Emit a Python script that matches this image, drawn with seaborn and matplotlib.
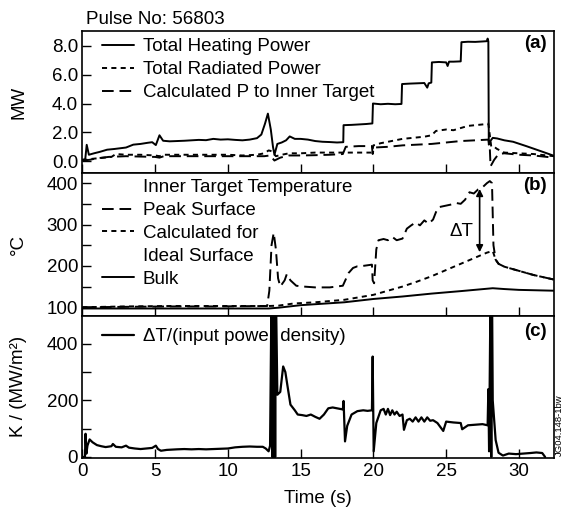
import numpy as np
import pandas as pd
import matplotlib
matplotlib.use("Agg")
import matplotlib.pyplot as plt
import matplotlib.ticker as mticker
from matplotlib.lines import Line2D
import seaborn as sns

# ── Dados (pulso 56803) ─────────────────────────────────────────────────────
t_heat = [0, 0.2, 0.3, 0.45, 0.8, 1.2, 1.7, 2.2, 2.6, 3.0, 3.5, 4.0, 4.5, 4.8, 5.05, 5.3, 5.55,
          6.0, 6.5, 7.0, 7.5, 8.0, 8.5, 9.0, 9.5, 10.0, 10.5, 11.0, 11.5, 12.0, 12.3, 12.55,
          12.75, 12.95, 13.1, 13.2, 13.4, 13.7, 14.0, 14.25, 14.6, 15.0, 15.5, 16.0, 16.5, 17.0,
          17.5, 17.93, 17.95, 18.5, 19.0, 19.5, 19.93, 19.97, 20.5, 21.0, 21.5, 21.93, 21.97,
          22.5, 23.0, 23.5, 23.7, 23.8, 23.98, 24.02, 24.5, 25.0, 25.1, 25.2, 25.5, 26.0, 26.05,
          26.5, 27.0, 27.5, 27.8, 27.85, 27.9, 27.93, 28.0, 28.2, 28.5, 29.0, 29.6, 30.5, 31.5, 32.4]
p_heat = [0.1, 0.15, 1.14, 0.45, 0.55, 0.65, 0.8, 0.85, 0.9, 0.95, 1.15, 1.2, 1.28, 1.32, 1.12, 1.8,
          1.42, 1.38, 1.4, 1.42, 1.45, 1.48, 1.46, 1.55, 1.5, 1.52, 1.48, 1.45, 1.5, 1.6, 1.85, 2.6,
          3.3, 2.2, 1.0, 0.45, 1.2, 1.3, 1.45, 1.72, 1.55, 1.55, 1.5, 1.4, 1.35, 1.33, 1.3, 1.32,
          2.5, 2.52, 2.55, 2.58, 2.62, 4.0, 3.95, 3.98, 3.95, 3.97, 5.35, 5.38, 5.4, 5.42, 5.1,
          5.4, 5.45, 6.85, 6.88, 6.85, 6.6, 6.9, 6.9, 6.92, 8.25, 8.28, 8.27, 8.3, 8.32, 8.5, 8.3,
          1.15, 1.35, 1.62, 1.58, 1.45, 1.35, 1.05, 0.7, 0.38]

t_rad = [0, 0.5, 1.0, 1.5, 2.0, 2.3, 3, 4, 5, 5.3, 5.6, 6, 7, 8, 9, 10, 11, 12, 12.5, 12.8, 13.0,
         13.3, 13.7, 14.2, 15, 16, 17, 18, 19, 19.9, 20.0, 20.5, 21, 21.5, 22, 22.5, 23, 23.5, 24,
         24.3, 25, 25.5, 26, 26.5, 27, 27.5, 27.9, 28.0, 28.1, 28.3, 28.5, 29, 30, 31, 32.4]
p_rad = [0.05, 0.15, 0.2, 0.25, 0.3, 0.5, 0.45, 0.45, 0.4, 0.35, 0.45, 0.45, 0.45, 0.45, 0.45, 0.45,
         0.4, 0.45, 0.55, 0.75, 0.7, 0.35, 0.45, 0.55, 0.55, 0.6, 0.6, 0.6, 0.6, 0.6, 1.1, 1.25,
         1.35, 1.45, 1.55, 1.6, 1.65, 1.7, 1.8, 2.1, 2.2, 2.15, 2.3, 2.45, 2.5, 2.55, 2.6, 1.8, 1.0,
         1.0, 0.85, 0.6, 0.55, 0.5, 0.35]

t_pin = [0, 0.5, 1.0, 1.8, 3, 5, 5.3, 5.6, 7, 9, 11, 12.5, 12.9, 13.2, 13.6, 14.2, 15, 16, 17,
         17.9, 18.1, 19, 19.9, 19.95, 20.05, 21, 22, 23, 24, 25, 26, 27, 27.9, 28.0, 28.05, 28.3,
         28.6, 29, 30, 31, 32.4]
p_pin = [0.05, 0.1, 0.2, 0.3, 0.35, 0.3, 0.25, 0.35, 0.35, 0.35, 0.35, 0.35, 0.4, 0.05, 0.25, 0.4,
         0.4, 0.42, 0.45, 0.5, 1.0, 1.05, 1.05, 0.5, 0.95, 1.0, 1.1, 1.15, 1.2, 1.3, 1.4, 1.45, 1.5,
         0.9, -0.35, 0.1, 0.5, 0.55, 0.45, 0.4, 0.25]

t_bulk = [0, 5, 10, 12.8, 13.5, 15, 18, 20, 22, 24, 26, 28.2, 29, 30, 32.4]
T_bulk = [97, 97, 97, 97, 99, 105, 112, 120, 126, 133, 139, 146, 144, 142, 140]

t_ideal = [0, 3, 6, 9, 12.8, 13.5, 14.5, 16, 18, 20, 21, 22, 23, 24, 25, 26, 27, 27.8, 28.2,
           28.4, 28.6, 29, 30, 31, 32.4]
T_ideal = [100, 102, 103, 103, 103, 104, 109, 112, 118, 130, 140, 150, 162, 175, 190, 205, 220,
           232, 236, 215, 205, 198, 188, 178, 167]

t_peak = [0, 3, 6, 9, 12.7, 12.85, 13.0, 13.15, 13.3, 13.45, 13.6, 13.9, 14.05, 14.3, 14.7, 15.2,
          16, 17, 17.9, 18.3, 18.6, 18.9, 19.3, 19.9, 19.95, 20.05, 20.2, 20.35, 20.7, 21.0, 21.3,
          21.6, 22.0, 22.3, 22.6, 22.9, 23.2, 23.5, 23.8, 24.1, 24.3, 24.5, 24.9, 25.3, 25.7, 26.0,
          26.3, 26.6, 26.9, 27.2, 27.5, 27.8, 28.0, 28.15, 28.25, 28.4, 28.6, 29, 30, 31, 32.4]
T_peak = [100, 101, 102, 102, 103, 140, 250, 280, 240, 170, 150, 165, 180, 165, 152, 150, 148,
          148, 152, 183, 195, 199, 200, 203, 165, 158, 240, 262, 265, 262, 270, 262, 266, 290, 298,
          305, 298, 310, 302, 312, 330, 342, 345, 348, 352, 350, 360, 378, 375, 385, 390, 400, 405,
          400, 250, 215, 205, 198, 188, 178, 167]

t_k = [0, 0.18, 0.22, 0.28, 0.35, 0.5, 0.7, 1.0, 1.3, 1.6, 2.0, 2.1, 2.3, 2.7, 3.0, 3.2, 3.6, 4.0,
       4.4, 4.8, 5.05, 5.2, 5.4, 5.8, 6.5, 7.0, 7.5, 8.0, 8.5, 9.0, 9.5, 10.0, 10.5, 11.0, 11.5,
       12.0, 12.4, 12.6, 12.8, 12.9, 13.0, 13.05, 13.1, 13.15, 13.2, 13.25, 13.3, 13.4, 13.6, 13.8,
       13.95, 14.1, 14.3, 14.6, 14.8, 15.1, 15.4, 15.7, 16.0, 16.3, 16.6, 16.9, 17.2, 17.5, 17.9,
       17.95, 18.05, 18.2, 18.5, 18.9, 19.3, 19.6, 19.9, 19.95, 20.02, 20.2, 20.5, 20.7, 20.85,
       21.0, 21.15, 21.3, 21.45, 21.6, 21.8, 22.0, 22.1, 22.3, 22.5, 22.7, 22.9, 23.1, 23.3, 23.5,
       23.7, 23.9, 24.1, 24.4, 24.8, 25.0, 25.5, 26.0, 26.1, 26.5, 27.0, 27.5, 27.85, 27.9, 27.95,
       28.05, 28.1, 28.15, 28.2, 28.4, 28.6, 28.9, 29.3, 29.8, 30.3, 30.8, 31.2, 31.6, 31.8]
k_val = [0, 0, 82, 12, 40, 62, 52, 42, 38, 35, 38, 46, 36, 34, 40, 33, 30, 28, 30, 32, 40, 28, 22,
         25, 27, 28, 27, 28, 27, 28, 29, 30, 34, 36, 37, 36, 36, 30, 20, 40, 600, 0, 600, 0, 600,
         0, 600, 220, 230, 320, 300, 250, 185, 165, 150, 148, 145, 150, 142, 135, 150, 172, 175,
         172, 168, 198, 55, 110, 150, 162, 165, 163, 165, 355, 20, 120, 165, 170, 150, 170, 148,
         165, 150, 160, 145, 150, 96, 130, 135, 125, 140, 125, 140, 125, 140, 128, 130, 120, 92,
         125, 122, 120, 98, 112, 114, 116, 112, 240, 20, 600, 0, 600, 200, 60, 15, 5, 12, 10, 12,
         14, 16, 14, 0]

# ── Estilo ──────────────────────────────────────────────────────────────────
sns.set_style("ticks")
plt.rcParams.update({
    "font.family": ["Liberation Sans", "DejaVu Sans"],
    "font.size": 13.5,
    "text.color": "black",
    "axes.labelcolor": "black",
    "axes.edgecolor": "black",
    "axes.linewidth": 1.2,
    "xtick.color": "black",
    "ytick.color": "black",
    "xtick.direction": "in",
    "ytick.direction": "in",
    "xtick.major.size": 6.5,
    "ytick.major.size": 6.5,
    "ytick.minor.size": 6.5,
    "xtick.major.width": 1.0,
    "ytick.major.width": 1.0,
    "ytick.minor.width": 1.0,
    "xtick.major.pad": 4,
    "ytick.major.pad": 3,
    "xtick.labelsize": 13.5,
    "ytick.labelsize": 13.5,
})

SHORT = (0, (2.6, 2.2))
LONG = (0, (6, 3))
LW = 1.4
LEG = dict(loc="upper left", frameon=False, borderpad=0, borderaxespad=0,
           handlelength=1.75, handletextpad=0.45, labelspacing=0.31)


def trace(ax, t, v, ls, lw=LW):
    df = pd.DataFrame({"t": t, "v": v})
    sns.lineplot(data=df, x="t", y="v", ax=ax, color="black", lw=lw, linestyle=ls,
                 estimator=None, sort=False, legend=False)


fig, (ax_a, ax_b, ax_c) = plt.subplots(3, 1, figsize=(5.64, 5.07), dpi=100, sharex=True)
fig.subplots_adjust(left=0.146, right=0.982, top=0.939, bottom=0.097, hspace=0)

# (a) potências
trace(ax_a, t_heat, p_heat, "-")
trace(ax_a, t_rad, p_rad, SHORT)
trace(ax_a, t_pin, p_pin, LONG)
ax_a.set_ylim(-0.83, 9.03)
ax_a.set_yticks([0, 2, 4, 6, 8])
ax_a.yaxis.set_major_formatter(mticker.FormatStrFormatter("%.1f"))
ax_a.set_ylabel("MW")
h_a = [Line2D([], [], color="k", lw=LW, ls="-"),
       Line2D([], [], color="k", lw=LW, ls=SHORT),
       Line2D([], [], color="k", lw=LW, ls=LONG)]
ax_a.legend(h_a, ["Total Heating Power", "Total Radiated Power", "Calculated P to Inner Target"],
            bbox_to_anchor=(0.041, 0.948), **LEG)
ax_a.text(0.008, 1.049, "Pulse No: 56803", transform=ax_a.transAxes, ha="left", va="baseline")
ax_a.text(0.9845, 0.915, "(a)", transform=ax_a.transAxes, ha="right", va="center",
          fontweight="bold")

# (b) temperaturas
trace(ax_b, t_bulk, T_bulk, "-")
trace(ax_b, t_ideal, T_ideal, SHORT)
trace(ax_b, t_peak, T_peak, LONG)
ax_b.set_ylim(80, 424)
ax_b.set_yticks([100, 200, 300, 400])
ax_b.set_yticks([150, 250, 350], minor=True)
ax_b.set_ylabel("°C")
h_b = [Line2D([], [], color="none"),
       Line2D([], [], color="k", lw=LW, ls=LONG),
       Line2D([], [], color="k", lw=LW, ls=SHORT),
       Line2D([], [], color="none"),
       Line2D([], [], color="k", lw=LW, ls="-")]
ax_b.legend(h_b, ["Inner Target Temperature", "Peak Surface", "Calculated for", "Ideal Surface", "Bulk"],
            bbox_to_anchor=(0.041, 0.959), **LEG)
dT_x, dT_lo, dT_hi = 27.3, 233, 386
ax_b.annotate("", xy=(dT_x, dT_lo), xytext=(dT_x, dT_hi),
              arrowprops=dict(arrowstyle="<|-|>", color="k", lw=1.2, mutation_scale=10,
                              shrinkA=0, shrinkB=0))
ax_b.text(26.85, 284, "ΔT", ha="right", va="center")
ax_b.text(0.9845, 0.912, "(b)", transform=ax_b.transAxes, ha="right", va="center",
          fontweight="bold")

# (c) razão ΔT / densidade de potência
trace(ax_c, t_k, k_val, "-", lw=1.6)
ax_c.set_ylim(-3, 500)
ax_c.set_yticks([0, 200, 400])
ax_c.set_yticks([100, 300], minor=True)
ax_c.set_ylabel("K / (MW/m²)")
ax_c.legend([Line2D([], [], color="k", lw=1.6)], ["ΔT/(input power density)"],
            bbox_to_anchor=(0.041, 0.912), **LEG)
ax_c.text(0.9845, 0.889, "(c)", transform=ax_c.transAxes, ha="right", va="center",
          fontweight="bold")

ax_c.set_xlim(0, 32.4)
ax_c.set_xticks(range(0, 31, 5))
ax_c.set_xlabel("Time (s)", labelpad=7)

for ax in (ax_a, ax_b, ax_c):
    ax.yaxis.set_label_coords(-0.117, 0.5)
    ax.tick_params(which="both", top=False, right=False)

fig.text(0.9925, 0.162, "JG04.148-1bw", rotation=90, fontsize=6.8, ha="center", va="center")

fig.savefig("out.png", dpi=100)
